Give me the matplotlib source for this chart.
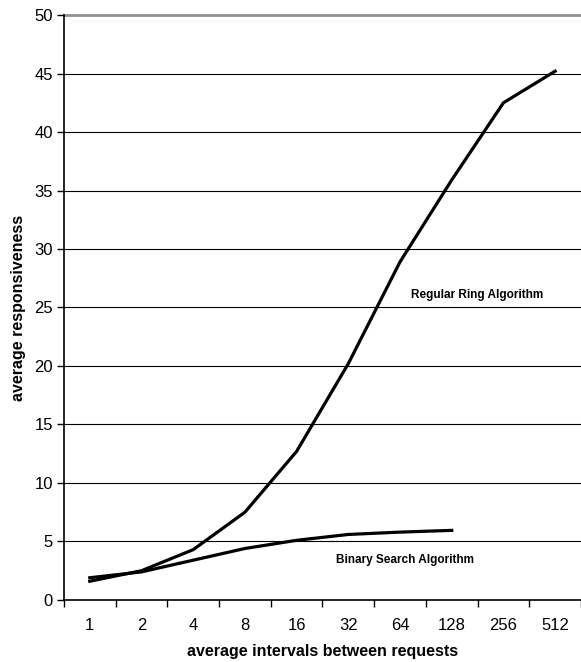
import matplotlib.pyplot as plt
import numpy as np

plt.rcParams['font.family'] = ['Liberation Sans', 'DejaVu Sans']

categories = ['1', '2', '4', '8', '16', '32', '64', '128', '256', '512']
regular_ring = [1.6, 2.5, 4.3, 7.5, 12.7, 20.2, 28.9, 35.9, 42.5, 45.2]
binary_search = [1.9, 2.4, 3.4, 4.4, 5.1, 5.6, 5.8, 5.95]

fig = plt.figure(figsize=(5.81, 6.62), dpi=100)
ax = fig.add_axes([0.110, 0.0937, 0.890, 0.8836])

x = np.arange(len(categories))
ax.plot(x, regular_ring, color='black', lw=2.3, solid_joinstyle='miter')
ax.plot(x[:len(binary_search)], binary_search, color='black', lw=2.3)

ax.set_xlim(-0.5, len(categories) - 0.5)
ax.set_ylim(0, 50)
ax.set_yticks(range(0, 51, 5))
for v in range(5, 50, 5):
    ax.axhline(v, color='black', lw=0.8, zorder=0)
ax.axhline(50, color='#909090', lw=2, zorder=0, clip_on=False)

ax.set_xticks(x)
ax.set_xticklabels(categories)
ax.set_xticks(np.arange(-0.5, len(categories)), minor=True)
ax.tick_params(axis='x', which='major', length=0, pad=13, labelsize=12)
ax.tick_params(axis='x', which='minor', length=5, width=1, direction='out')
ax.tick_params(axis='y', length=5, width=1, labelsize=12, pad=3)

for s in ['top', 'right']:
    ax.spines[s].set_visible(False)
ax.spines['left'].set_linewidth(1.2)
ax.spines['bottom'].set_linewidth(1.2)

ax.text(7.5, 26.1, 'Regular Ring Algorithm', fontsize=8.5, fontweight='bold',
        ha='center', va='center')
ax.text(6.1, 3.4, 'Binary Search Algorithm', fontsize=8.5, fontweight='bold',
        ha='center', va='center')

ax.set_xlabel('average intervals between requests', fontsize=11.5, fontweight='bold',
              labelpad=8)
ax.set_ylabel('average responsiveness', fontsize=11.5, fontweight='bold', labelpad=6)

fig.savefig('out.png', dpi=100)
